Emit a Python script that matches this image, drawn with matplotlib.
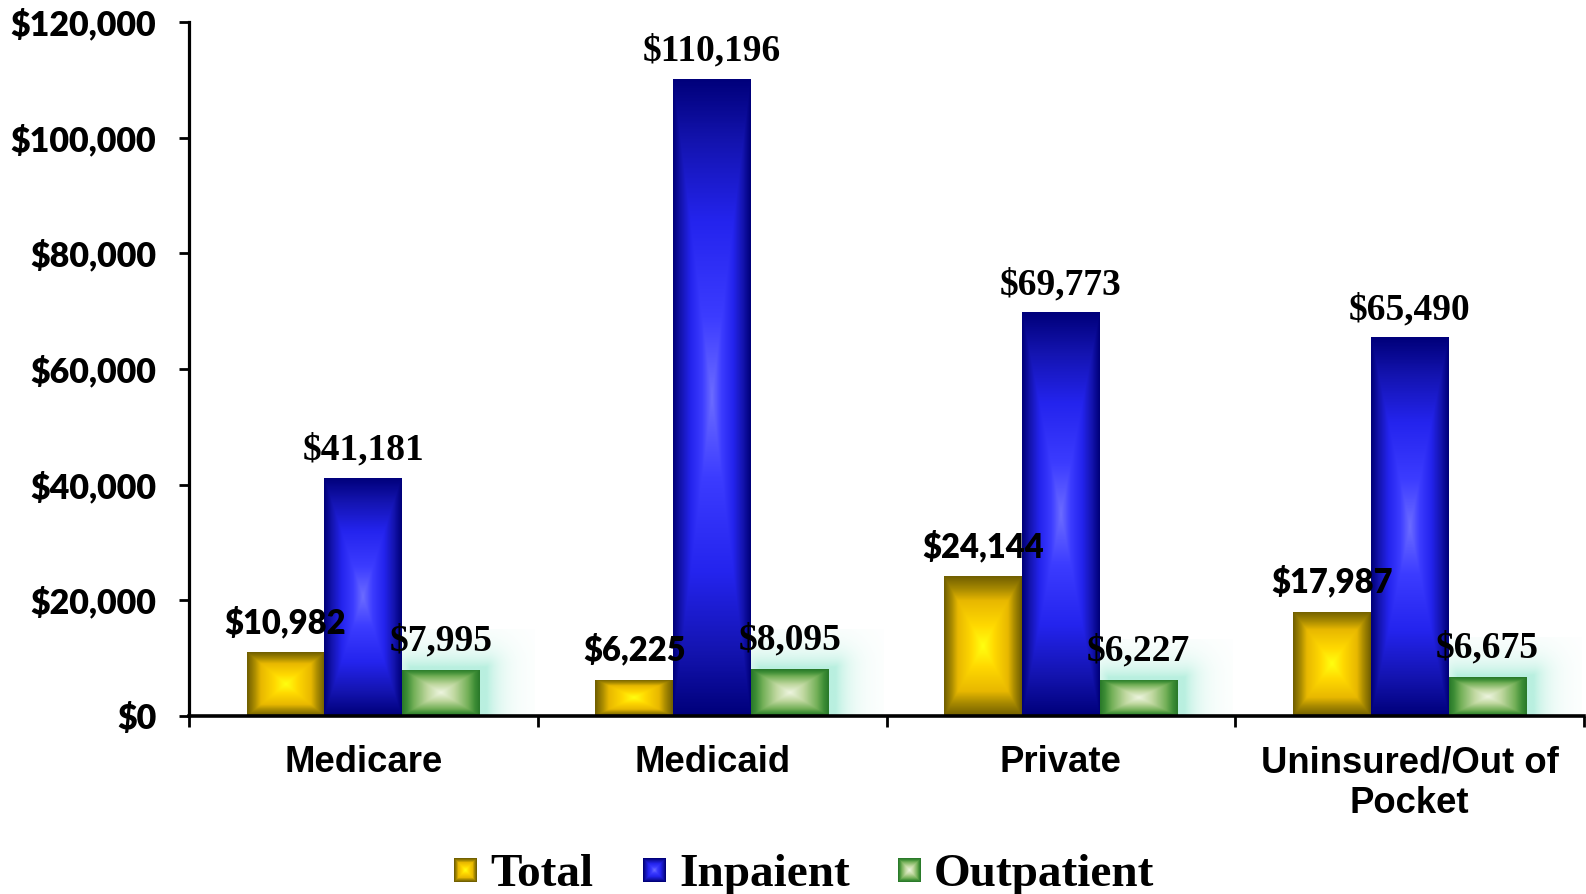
import numpy as np
import matplotlib
matplotlib.use("Agg")
import matplotlib.pyplot as plt
from matplotlib.colors import LinearSegmentedColormap, to_rgb

categories = ["Medicare", "Medicaid", "Private", "Uninsured/Out of\nPocket"]
series_names = ["Total", "Inpaient", "Outpatient"]
total = [10982, 6225, 24144, 17987]
inpatient = [41181, 110196, 69773, 65490]
outpatient = [7995, 8095, 6227, 6675]
yticks = [0, 20000, 40000, 60000, 80000, 100000, 120000]
ytick_labels = ["$0", "$20,000", "$40,000", "$60,000", "$80,000", "$100,000", "$120,000"]

W, H = 1586, 894
fig = plt.figure(figsize=(W / 100, H / 100), dpi=100)
ax = fig.add_axes([189 / W, (H - 716) / H, (1584 - 189) / W, (716 - 22) / H])
ax.set_xlim(-0.5, 3.5)
ax.set_ylim(0, 120000)

bw = 0.223
x = np.arange(len(categories))

cmap_total = LinearSegmentedColormap.from_list(
    "tot", [(0, "#ffff10"), (0.3, "#ffd800"), (0.65, "#e8b800"), (0.82, "#a88a00"), (1, "#726000")])
cmap_in = LinearSegmentedColormap.from_list(
    "inp", [(0, "#6c6cff"), (0.25, "#3c3cff"), (0.55, "#2424ee"), (0.8, "#1414b0"), (1, "#00007a")])
cmap_out = LinearSegmentedColormap.from_list(
    "out", [(0, "#eef5e0"), (0.35, "#c0d8a0"), (0.7, "#74b058"), (0.88, "#3e8e36"), (1, "#2a7a2a")])
cmaps = {"t": cmap_total, "i": cmap_in, "o": cmap_out}


def pix_size(patch):
    x0, y0 = patch.get_x(), patch.get_y()
    p0 = ax.transData.transform((x0, y0))
    p1 = ax.transData.transform((x0 + patch.get_width(), y0 + patch.get_height()))
    return max(int(abs(p1[0] - p0[0])), 2), max(int(abs(p1[1] - p0[1])), 2)


def pyramid(wp, hp, cmap):
    u = np.linspace(-1, 1, wp)
    v = np.linspace(-1, 1, hp)
    U, V = np.meshgrid(u, v)
    d = np.maximum(np.abs(U), np.abs(V))
    return cmap(np.clip(d, 0, 1))


def glow(patch):
    x0, w, h = patch.get_x(), patch.get_width(), patch.get_height()
    p0 = ax.transData.transform((x0, 0))
    p1 = ax.transData.transform((x0 + w, h))
    gx0 = p0[0]
    gx1 = p1[0] + 55
    gy0 = p0[1]
    gy1 = p1[1] + 40
    nx, ny = int(gx1 - gx0), int(gy1 - gy0)
    X, Y = np.meshgrid(np.arange(nx) + gx0, gy1 - np.arange(ny))
    rx0, rx1 = p0[0] + 8, p1[0] + 6
    ry1 = p1[1] + 3
    dx = np.maximum(np.maximum(rx0 - X, X - rx1), 0)
    dy = np.maximum(Y - ry1, 0)
    dist = np.hypot(dx, dy)
    alpha = 0.8 * np.exp(-dist / 15)
    col = np.array(to_rgb("#a8ecd8"))
    img = np.zeros((ny, nx, 4))
    img[..., :3] = col
    img[..., 3] = alpha
    inv = ax.transData.inverted()
    (dx0, dy0) = inv.transform((gx0, gy0))
    (dx1, dy1) = inv.transform((gx1, gy1))
    ax.imshow(img, extent=(dx0, dx1, dy0, dy1), aspect="auto", zorder=1, interpolation="bilinear")


bars_t = ax.bar(x - bw, total, bw, color="#d4aa00", zorder=2)
bars_i = ax.bar(x, inpatient, bw, color="#1a1ad0", zorder=2)
bars_o = ax.bar(x + bw, outpatient, bw, color="#6aaa50", zorder=2)

for p in bars_o:
    glow(p)

for group, kind in [(bars_t, "t"), (bars_i, "i"), (bars_o, "o")]:
    for p in group:
        wp, hp = pix_size(p)
        img = pyramid(wp, hp, cmaps[kind])
        x0, y0 = p.get_x(), p.get_y()
        im = ax.imshow(img, extent=(x0, x0 + p.get_width(), y0, y0 + p.get_height()),
                       aspect="auto", zorder=3, interpolation="bilinear")
        im.set_clip_path(p)

ax.set_xlim(-0.5, 3.5)
ax.set_ylim(0, 120000)

serif = "Liberation Serif"
for p, v in zip(bars_t, total):
    ax.annotate(f"${v:,}", (p.get_x() + p.get_width() / 2, p.get_height()), xytext=(0, 14),
                textcoords="offset points", ha="center", va="baseline",
                fontsize=23.5, fontweight="heavy", family="Lato", zorder=5)
for p, v in zip(bars_i, inpatient):
    ax.annotate(f"${v:,}", (p.get_x() + p.get_width() / 2, p.get_height()), xytext=(0, 13),
                textcoords="offset points", ha="center", va="baseline",
                fontsize=27, fontweight="bold", family=serif, zorder=5)
for p, v in zip(bars_o, outpatient):
    ax.annotate(f"${v:,}", (p.get_x() + p.get_width() / 2, p.get_height()), xytext=(0, 14),
                textcoords="offset points", ha="center", va="baseline",
                fontsize=27, fontweight="bold", family=serif, zorder=5)

for s in ["top", "right"]:
    ax.spines[s].set_visible(False)
ax.spines["left"].set_linewidth(2.3)
ax.spines["bottom"].set_linewidth(2.6)
ax.spines["left"].set_zorder(6)
ax.spines["bottom"].set_zorder(6)

ax.set_yticks(yticks)
ax.set_yticklabels(ytick_labels, fontsize=24.5, fontweight="heavy", family="Lato")
ax.tick_params(axis="y", length=7.5, width=2, pad=16)

ax.set_xticks(np.arange(-0.5, 4, 1))
ax.set_xticklabels([])
ax.tick_params(axis="x", which="major", length=8, width=2)
ax.set_xticks(x, minor=True)
ax.set_xticklabels(categories, minor=True, fontsize=26.3, fontweight="bold",
                   family="Liberation Sans", linespacing=1.22)
ax.tick_params(axis="x", which="minor", length=0, pad=21)

# legend (manual)
leg_items = [("Total", 454, "t"), ("Inpaient", 643, "i"), ("Outpatient", 898, "o")]
for name, px, kind in leg_items:
    lax = fig.add_axes([px / W, (H - 882) / H, 23 / W, 24 / H])
    lax.imshow(pyramid(23, 24, cmaps[kind]), aspect="auto", interpolation="bilinear")
    lax.set_axis_off()
    fig.text((px + 36) / W, (H - 886) / H, name, fontsize=34, fontweight="bold",
             family=serif, ha="left", va="baseline")

fig.savefig("out.png", dpi=100)
